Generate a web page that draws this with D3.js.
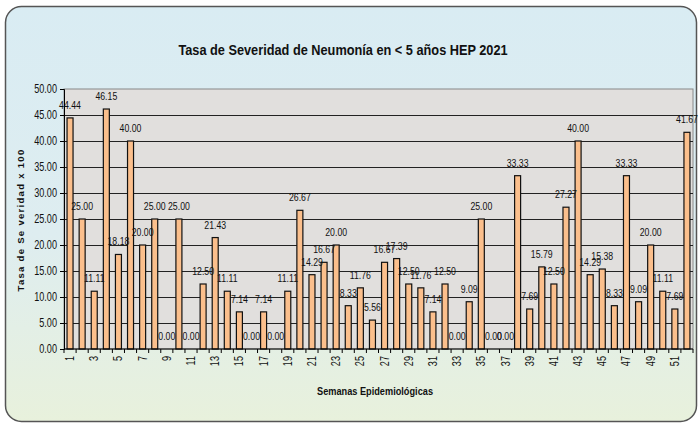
<!DOCTYPE html>
<html>
<head>
<meta charset="utf-8">
<script src="https://cdn.jsdelivr.net/npm/d3@7"></script>
<style>
  body { margin: 0; background: #fff; }
  text { font-family: "Liberation Sans", Arial, sans-serif; }
</style>
</head>
<body>
<div id="chart"></div>
<script>
// week numbers and rates
const weeks = d3.range(1, 53);
const rates = [44.44, 25.00, 11.11, 46.15, 18.18, 40.00, 20.00, 25.00, 0.00, 25.00,
    0.00, 12.50, 21.43, 11.11, 7.14, 0.00, 7.14, 0.00, 11.11, 26.67,
    14.29, 16.67, 20.00, 8.33, 11.76, 5.56, 16.67, 17.39, 12.50, 11.76,
    7.14, 12.50, 0.00, 9.09, 25.00, 0.00, 0.00, 33.33, 7.69, 15.79,
    12.50, 27.27, 40.00, 14.29, 15.38, 8.33, 33.33, 9.09, 20.00, 11.11,
    7.69, 41.67];
const yTicks = [0, 5, 10, 15, 20, 25, 30, 35, 40, 45, 50];

const width = 700, height = 424;
const plot = { left: 64, right: 693, top: 89, bottom: 349 };
const narrow = 0.76; // squeeze text horizontally, the original font is condensed

const svg = d3.select("#chart").append("svg").attr("width", width).attr("height", height);

// background gradient
const defs = svg.append("defs");
const grad = defs.append("linearGradient").attr("id", "bg").attr("x1", 0).attr("y1", 0).attr("x2", 0).attr("y2", 1);
grad.append("stop").attr("offset", "0%").attr("stop-color", "#d9ecf3");
grad.append("stop").attr("offset", "55%").attr("stop-color", "#deedf0");
grad.append("stop").attr("offset", "100%").attr("stop-color", "#e8f1dc");

svg.append("rect").attr("x", 5.5).attr("y", 6.5).attr("width", 691).attr("height", 415)
    .attr("rx", 16).attr("fill", "url(#bg)").attr("stroke", "#555").attr("stroke-width", 1.5);

const x = d3.scaleBand().domain(weeks).range([plot.left, plot.right]);
const y = d3.scaleLinear().domain([0, 50]).range([plot.bottom, plot.top]);

// plot area
svg.append("rect").attr("x", plot.left).attr("y", plot.top)
    .attr("width", plot.right - plot.left).attr("height", plot.bottom - plot.top)
    .attr("fill", "#e1dfdd").attr("stroke", "#888").attr("stroke-width", 1);

// gridlines
svg.append("g").selectAll("line").data(yTicks.filter(d => d > 0 && d < 50)).join("line")
    .attr("x1", plot.left).attr("x2", plot.right)
    .attr("y1", d => Math.round(y(d)) + 0.5).attr("y2", d => Math.round(y(d)) + 0.5)
    .attr("stroke", "#222").attr("stroke-width", 1.2);

// y axis
const yAxis = svg.append("g").attr("transform", `translate(${plot.left},0)`)
    .call(d3.axisLeft(y).tickValues(yTicks).tickFormat(d3.format(".2f")).tickSize(4).tickPadding(3));
yAxis.select(".domain").attr("stroke", "#000");
yAxis.selectAll(".tick text").each(function () {
    const t = d3.select(this);
    const xx = +t.attr("x");
    t.attr("x", null).attr("transform", `translate(${xx},0) scale(${narrow},1)`)
        .attr("font-size", 12).attr("fill", "#111");
});

// bars
const barW = 6;
svg.append("g").selectAll("rect").data(rates).join("rect")
    .attr("x", (d, i) => x(weeks[i]) + x.bandwidth() / 2 - barW / 2)
    .attr("y", d => y(d))
    .attr("width", barW)
    .attr("height", d => y(0) - y(d))
    .attr("fill", "#fbbf8c").attr("stroke", "#111").attr("stroke-width", 1.2);

// value labels
svg.append("g").selectAll("text").data(rates).join("text")
    .attr("transform", (d, i) => `translate(${x(weeks[i]) + x.bandwidth() / 2},${y(d) - 9}) scale(${narrow},1)`)
    .attr("text-anchor", "middle").attr("font-size", 11.5).attr("fill", "#111")
    .text(d => d3.format(".2f")(d));

// x axis
const xg = svg.append("g");
xg.append("line").attr("x1", plot.left).attr("x2", plot.right)
    .attr("y1", plot.bottom).attr("y2", plot.bottom).attr("stroke", "#000").attr("stroke-width", 1.2);
xg.selectAll("line.tick").data(d3.range(0, 53)).join("line").attr("class", "tick")
    .attr("x1", i => plot.left + i * x.step()).attr("x2", i => plot.left + i * x.step())
    .attr("y1", plot.bottom).attr("y2", plot.bottom + 4).attr("stroke", "#000");
xg.selectAll("text").data(weeks.filter(w => w % 2 === 1)).join("text")
    .attr("transform", w => `translate(${x(w) + x.bandwidth() / 2 + 4},${plot.bottom + 7}) rotate(-90) scale(${narrow},1)`)
    .attr("text-anchor", "end").attr("font-size", 12).attr("fill", "#111")
    .text(w => w);

// titles
svg.append("text").attr("transform", "translate(343,55) scale(0.88,1)").attr("text-anchor", "middle")
    .attr("font-size", 14.5).attr("font-weight", "bold").attr("fill", "#111")
    .text("Tasa de Severidad de Neumonía en < 5 años HEP 2021");
svg.append("text").attr("transform", "translate(24,220) rotate(-90)").attr("text-anchor", "middle")
    .attr("font-size", 9.5).attr("font-weight", "bold").attr("fill", "#111")
    .attr("letter-spacing", 1.3)
    .text("Tasa de Se veridad x 100");
svg.append("text").attr("transform", "translate(375,395) scale(0.8,1)").attr("text-anchor", "middle")
    .attr("font-size", 11.5).attr("font-weight", "bold").attr("fill", "#111")
    .text("Semanas Epidemiológicas");
</script>
</body>
</html>
